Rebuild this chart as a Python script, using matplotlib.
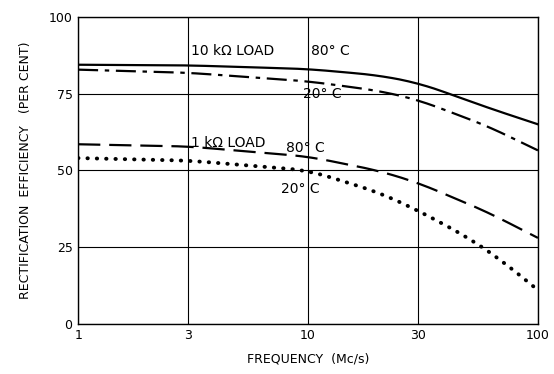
import matplotlib
matplotlib.use("Agg")
import matplotlib.pyplot as plt
import numpy as np

freq_10k_80 = [1, 3, 10, 20, 30, 41, 60, 100]
eff_10k_80 = [84.4, 84.2, 83.0, 81.0, 78.5, 75.0, 70.5, 65.0]

freq_10k_20 = [1, 3, 10, 20, 30, 60, 100]
eff_10k_20 = [82.8, 81.8, 79.0, 76.0, 73.0, 64.5, 56.5]

freq_1k_80 = [1, 3, 10, 20, 30, 60, 100]
eff_1k_80 = [58.5, 57.8, 54.5, 50.0, 46.0, 36.5, 28.0]

freq_1k_20 = [1, 3, 10, 20, 30, 50, 70, 100]
eff_1k_20 = [54.0, 53.2, 50.0, 43.0, 37.0, 28.0, 20.5, 11.0]

xticks = [1, 3, 10, 30, 100]
yticks = [0, 25, 50, 75, 100]

fig = plt.figure(figsize=(5.54, 3.74), dpi=100)
ax = fig.add_axes([0.141, 0.134, 0.830, 0.821])
ax.set_xscale("log")
ax.set_xlim(1, 100)
ax.set_ylim(0, 100)

ax.set_xticks(xticks)
ax.set_xticklabels([str(t) for t in xticks])
ax.set_yticks(yticks)
ax.set_yticklabels([str(t) for t in yticks])
ax.minorticks_off()
ax.tick_params(length=0, labelsize=9, pad=4)
ax.grid(True, color="black", linewidth=0.8)
for s in ax.spines.values():
    s.set_linewidth(1.0)

def smooth(xs, ys):
    lx = np.log10(xs)
    xx = np.linspace(lx[0], lx[-1], 200)
    yy = np.interp(xx, lx, ys)
    k = 9
    pad = np.pad(yy, k, mode="reflect", reflect_type="odd")
    ker = np.ones(2 * k + 1) / (2 * k + 1)
    yy = np.convolve(pad, ker, mode="valid")
    return 10 ** xx, yy

x, y = smooth(freq_10k_80, eff_10k_80)
ax.plot(x, y, color="black", lw=1.6, ls="-")
x, y = smooth(freq_10k_20, eff_10k_20)
ax.plot(x, y, color="black", lw=1.6, dashes=(9, 3, 2, 3))
x, y = smooth(freq_1k_80, eff_1k_80)
ax.plot(x, y, color="black", lw=1.6, dashes=(10, 4))
x, y = smooth(freq_1k_20, eff_1k_20)
ax.plot(x, y, color="black", lw=2.8, ls=(0, (0.1, 2.3)), dash_capstyle="round")

fs = 10
ax.text(3.1, 86.5, "10 k\u03a9 LOAD", fontsize=fs, ha="left", va="bottom")
ax.text(10.3, 86.5, "80\u00b0 C", fontsize=fs, ha="left", va="bottom")
ax.text(9.5, 72.5, "20\u00b0 C", fontsize=fs, ha="left", va="bottom")
ax.text(3.1, 56.5, "1 k\u03a9 LOAD", fontsize=fs, ha="left", va="bottom")
ax.text(8.0, 55.0, "80\u00b0 C", fontsize=fs, ha="left", va="bottom")
ax.text(7.6, 41.5, "20\u00b0 C", fontsize=fs, ha="left", va="bottom")

ax.set_xlabel("FREQUENCY  (Mc/s)", fontsize=9, labelpad=7)
ax.set_ylabel("RECTIFICATION  EFFICIENCY   (PER CENT)", fontsize=9, labelpad=12)

fig.savefig("out.png", dpi=100)
